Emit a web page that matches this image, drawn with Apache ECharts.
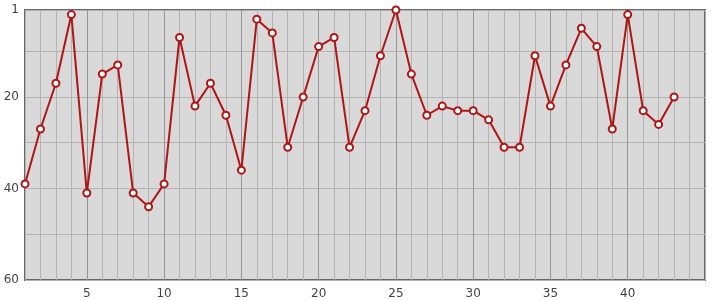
<!DOCTYPE html>
<html><head><meta charset="utf-8">
<script src="https://cdn.jsdelivr.net/npm/echarts@6/dist/echarts.min.js"></script>
<style>html,body{margin:0;padding:0;background:#fff}#c{width:715px;height:300px}</style>
</head><body><div id="c"></div>
<script>
const xValues = [1,2,3,4,5,6,7,8,9,10,11,12,13,14,15,16,17,18,19,20,21,22,23,24,25,26,27,28,29,30,31,32,33,34,35,36,37,38,39,40,41,42,43];
const rankValues = [39,27,17,2,41,15,13,41,44,39,7,22,17,24,36,3,6,31,20,9,7,31,23,11,1,15,24,22,23,23,25,31,31,11,22,13,5,9,27,2,23,26,20];
const xTickLabels = [5,10,15,20,25,30,35,40];
const yTickLabels = [1,20,40,60];
const yGridValues = [1,10,20,30,40,50,60];

const chart = echarts.init(document.getElementById('c'));
const labelStyle = {color:'#444', fontSize:12, fontFamily:'DejaVu Sans, sans-serif'};
chart.setOption({
  animation:false,
  grid:{left:25,right:10,top:10,bottom:20,show:true,backgroundColor:'#d9d9d9',borderColor:'#666',borderWidth:2},
  xAxis:[
    {type:'value',min:1,max:45,interval:1,position:'bottom',
     axisLine:{show:false},axisTick:{show:false},axisLabel:{show:false},
     splitLine:{show:true,lineStyle:{color:'#b4b4b4',width:1}}},
    {type:'value',min:1,max:45,position:'bottom',
     axisLine:{show:false},axisTick:{show:false,customValues:xTickLabels},
     axisLabel:Object.assign({show:true,customValues:xTickLabels,margin:8},labelStyle),
     splitLine:{show:true,lineStyle:{color:'#959595',width:1}}}
  ],
  yAxis:{type:'value',min:1,max:60,inverse:true,
     axisLine:{show:false},axisTick:{show:false,customValues:yGridValues},
     axisLabel:Object.assign({show:true,customValues:yTickLabels,margin:6},labelStyle),
     splitLine:{show:true,lineStyle:{color:'#b4b4b4',width:1}}},
  series:[{type:'line',xAxisIndex:1,data:xValues.map((x,i)=>[x,rankValues[i]]),
     clip:false,symbol:'emptyCircle',symbolSize:7,
     lineStyle:{color:'#b01515',width:2},
     itemStyle:{color:'#b01515',borderColor:'#b01515',borderWidth:2}}]
});
</script></body></html>
